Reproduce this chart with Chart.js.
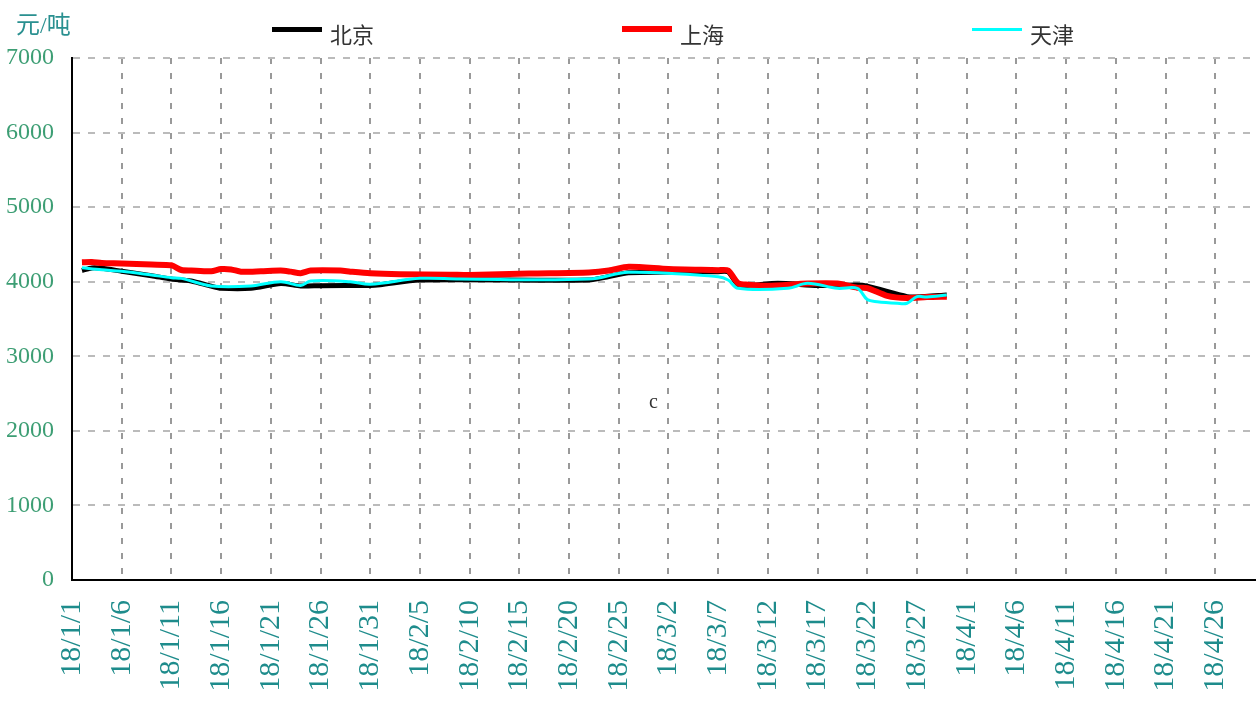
<!DOCTYPE html>
<html>
<head>
<meta charset="utf-8">
<script src="https://cdn.jsdelivr.net/npm/chart.js@4"></script>
<style>
  body { margin: 0; background: #fff; }
  #wrap { position: relative; width: 1258px; height: 709px; }
  .unit { position: absolute; left: 16px; top: 5px; font: 24px "Liberation Serif", "Noto Sans CJK SC", serif; color: #2a9090; }
  .leg { position: absolute; top: 17px; height: 26px; font: 22px "Noto Sans CJK SC", sans-serif; color: #333; }
  .leg i { position: absolute; left: 0; width: 50px; }
  .leg span { position: absolute; left: 58px; top: 0; white-space: nowrap; }
  .note { position: absolute; left: 649px; top: 390px; font: 20px "Liberation Serif", serif; color: #333; }
</style>
</head>
<body>
<div id="wrap">
  <canvas id="chart" width="1258" height="709"></canvas>
  <div class="unit">元/吨</div>
  <div class="leg" style="left:272px"><i style="top:10px;height:5px;background:#000"></i><span>北京</span></div>
  <div class="leg" style="left:622px"><i style="top:9px;height:6px;background:#ff0000"></i><span>上海</span></div>
  <div class="leg" style="left:972px"><i style="top:11px;height:3px;background:#00ffff"></i><span>天津</span></div>
  <div class="note">c</div>
</div>
<script>
// days counted from 2018-01-01 (day 0)
const beijingDays = [1, 2, 3, 5, 8, 10, 11, 12, 14, 15, 18, 21, 23, 25, 30, 31, 35, 52, 54, 56, 65, 66, 67, 68, 71, 75, 79, 80, 84, 85, 88];
const beijingVals = [4150, 4185, 4180, 4140, 4080, 4036, 4023, 4010, 3940, 3911, 3911, 3975, 3943, 3947, 3950, 3960, 4023, 4023, 4070, 4120, 4135, 4130, 3960, 3950, 3978, 3950, 3956, 3940, 3800, 3795, 3822];

const shanghaiDays = [1, 2, 3, 5, 8, 10, 11, 12, 14, 15, 16, 17, 19, 21, 22, 23, 24, 27, 28, 30, 33, 38, 40, 46, 52, 54, 56, 60, 65, 66, 67, 68, 70, 74, 77, 79, 80, 82, 84, 86, 88];
const shanghaiVals = [4260, 4265, 4250, 4245, 4230, 4220, 4157, 4150, 4140, 4170, 4165, 4134, 4140, 4150, 4135, 4115, 4150, 4150, 4135, 4112, 4100, 4095, 4090, 4110, 4125, 4150, 4200, 4170, 4155, 4150, 3980, 3960, 3945, 3975, 3975, 3920, 3915, 3810, 3780, 3795, 3800];

const tianjinDays = [1, 3, 5, 8, 10, 11, 14, 18, 21, 23, 24, 28, 30, 35, 39, 52, 56, 65, 66, 67, 72, 74, 77, 79, 80, 81, 83, 84, 85, 86, 88];
const tianjinVals = [4188, 4160, 4140, 4090, 4054, 4045, 3943, 3943, 4001, 3950, 4010, 4001, 3965, 4045, 4036, 4036, 4126, 4068, 4023, 3911, 3911, 3979, 3911, 3911, 3760, 3732, 3711, 3711, 3800, 3795, 3822];

const tickDays = [0, 5, 10, 15, 20, 25, 30, 35, 40, 45, 50, 55, 60, 65, 70, 75, 80, 85, 90, 95, 100, 105, 110, 115];

function toPoints(days, vals) {
  return days.map((d, i) => ({ x: d, y: vals[i] }));
}

function dayLabel(d) {
  const dt = new Date(Date.UTC(2018, 0, 1 + d));
  return '18/' + (dt.getUTCMonth() + 1) + '/' + dt.getUTCDate();
}

new Chart(document.getElementById('chart'), {
  type: 'line',
  data: {
    datasets: [
      { label: '天津', data: toPoints(tianjinDays, tianjinVals), borderColor: '#00ffff', borderWidth: 3, tension: 0.35, order: 0 },
      { label: '上海', data: toPoints(shanghaiDays, shanghaiVals), borderColor: '#ff0000', borderWidth: 6, tension: 0.25, order: 1 },
      { label: '北京', data: toPoints(beijingDays, beijingVals), borderColor: '#000000', borderWidth: 5, tension: 0.25, order: 2 }
    ]
  },
  options: {
    responsive: false,
    animation: false,
    elements: { point: { radius: 0 } },
    layout: { padding: { top: 58, right: 3, left: 0, bottom: 0 } },
    plugins: { legend: { display: false }, tooltip: { enabled: false } },
    scales: {
      x: {
        type: 'linear',
        min: 0,
        max: 119,
        afterBuildTicks: (scale) => { scale.ticks = tickDays.map(v => ({ value: v })); },
        afterFit: (scale) => { scale.height = 129; scale.paddingLeft = 0; scale.paddingRight = 0; },
        grid: { color: '#999', lineWidth: 2, drawTicks: false },
        border: { color: '#000', width: 2, dash: [6, 9] },
        ticks: {
          autoSkip: false,
          minRotation: 90,
          maxRotation: 90,
          padding: 20,
          color: '#1e8c8c',
          font: { family: '"Liberation Serif", serif', size: 30 },
          callback: (v) => dayLabel(v)
        }
      },
      y: {
        min: 0,
        max: 7000,
        afterFit: (scale) => { scale.width = 72; },
        grid: { color: '#bbb', lineWidth: 2, drawTicks: false },
        border: { color: '#000', width: 2, dash: [7, 8] },
        ticks: {
          stepSize: 1000,
          padding: 18,
          color: '#3d9e74',
          font: { family: '"Liberation Serif", serif', size: 24 },
          callback: (v) => String(v)
        }
      }
    }
  }
});
</script>
</body>
</html>
